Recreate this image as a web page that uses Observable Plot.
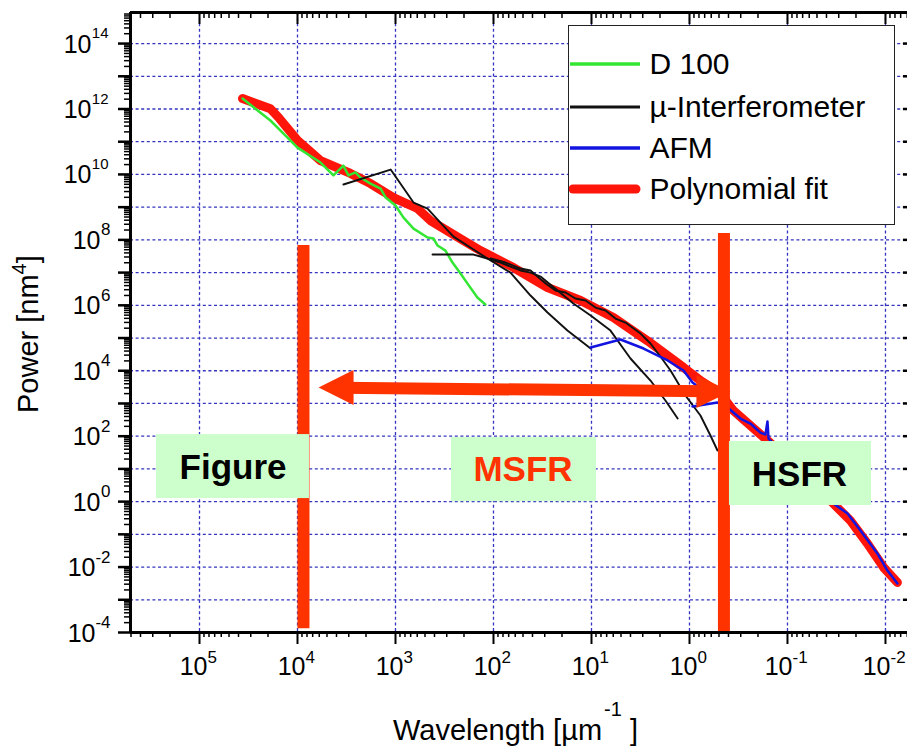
<!DOCTYPE html>
<html>
<head>
<meta charset="utf-8">
<script src="https://cdn.jsdelivr.net/npm/d3@7"></script>
<script src="https://cdn.jsdelivr.net/npm/@observablehq/plot@0.6"></script>
<style>
  html, body { margin: 0; padding: 0; background: #fff; overflow: hidden; }
  #wrap { position: relative; width: 907px; height: 750px; font-family: "Liberation Sans", Arial, sans-serif; color: #000; }
  #wrap svg { position: absolute; left: 0; top: 0; }
</style>
</head>
<body>
<div id="wrap"></div>
<script>
// ---------------- data ----------------
const seriesNames  = ["D 100", "µ-Interferometer", "AFM", "Polynomial fit"];
const seriesColors = ["#33e633", "#111111", "#1414e0", "#ff150a"];

// Polynomial fit
const fitX = [3.64e4, 1.89e4, 1.56e4, 1.0e4, 5.82e3, 2.88e3, 1.80e3, 1.05e3, 597, 440, 202, 136, 62.5, 28.1, 12.9, 5.97, 2.69, 1.15, 0.773, 0.483, 0.356, 0.16, 0.0736, 0.034, 0.0228, 0.0153, 0.01047, 0.00755];
const fitY = [2.09e12, 1.02e12, 5.5e11, 1.1e11, 2.63e10, 1.07e10, 5.25e9, 1.95e9, 9.1e8, 3.9e8, 9.5e7, 4.7e7, 1.43e7, 3.5e6, 1.4e6, 4.24e5, 8.3e4, 1.26e4, 5.0e3, 2.0e3, 603, 74, 8.9, 0.87, 0.263, 0.0525, 0.0098, 0.00339];

// D 100
const d100X = [3.64e4, 1.89e4, 1.0e4, 5.82e3, 4.30e3, 3.40e3, 3.02e3, 2.56e3, 2.28e3, 1.80e3, 1.42e3, 1.26e3, 1.0e3, 828, 655, 471, 409, 372, 309, 262, 217, 184, 146, 121];
const d100Y = [2.09e12, 4.45e11, 6.6e10, 2.31e10, 9.3e9, 1.86e10, 9.3e9, 1.15e10, 8.05e9, 5.25e9, 3.7e9, 1.97e9, 1.12e9, 4.8e8, 2.2e8, 1.18e8, 1.1e8, 6.7e7, 4.7e7, 2.03e7, 9.4e6, 4.6e6, 1.73e6, 1.06e6];

// µ-Interferometer (three scans)
const mi1X = [3.4e3, 1.12e3, 655, 471, 348, 256, 160, 107, 67.1, 41.9, 28.1, 17.6, 10.2];
const mi1Y = [4.92e9, 1.41e10, 1.38e9, 9.08e8, 3.39e8, 1.26e8, 5.07e7, 2.34e7, 1.0e7, 1.99e6, 6.03e5, 1.69e5, 4.78e4];
const mi2X = [419, 160, 136, 107, 84.9, 67.1, 53.0, 41.9, 33.1, 22.2, 15.3, 10.2, 6.40, 4.0, 2.5, 1.76, 1.32];
const mi2Y = [3.56e7, 3.56e7, 3.1e7, 2.51e7, 2.03e7, 1.53e7, 1.16e7, 1.0e7, 7.59e6, 2.83e6, 1.13e6, 4.88e5, 1.69e5, 2.37e4, 5.02e3, 1.23e3, 347];
const mi3X = [107, 75.5, 53.0, 41.9, 29.4, 23.3, 18.4, 14.6, 11.5, 9.1, 7.19, 5.69, 4.50, 3.16, 2.5, 1.98, 1.56, 1.10, 0.773, 0.611, 0.518];
const mi3Y = [2.69e7, 2.03e7, 1.33e7, 1.16e7, 4.63e6, 2.83e6, 2.46e6, 1.61e6, 1.4e6, 8.55e5, 6.93e5, 3.94e5, 2.98e5, 1.37e5, 6.79e4, 2.72e4, 1.02e4, 1.75e3, 429, 105, 36.5];

// AFM (two scans)
const afm1X = [10.2, 5.06, 2.94, 1.67, 1.15, 0.931, 0.773];
const afm1Y = [5.13e4, 9.0e4, 4.78e4, 2.06e4, 1.02e4, 4.37e3, 2.86e3];
const afm2X = [0.931, 0.518, 0.409, 0.302, 0.239, 0.189, 0.168, 0.160, 0.156, 0.0736, 0.034, 0.0244, 0.018, 0.0121, 0.00955, 0.00755];
const afm2Y = [807, 1.07e3, 752, 347, 244, 129, 112, 281, 84.9, 8.93, 0.875, 0.434, 0.131, 0.026, 0.00783, 0.00314];

// Region boundaries (vertical bars) and the double arrow
const boundaryX      = [8.69e3, 0.445];
const boundaryTop    = [6.7e7, 1.56e8];
const boundaryBottom = [1.3e-4, 1e-4];
const arrowStart = [6.1e3, 3.07e3];   // [x, y]
const arrowEnd   = [0.382, 2.32e3];

// Region label boxes
const regionLabels = ["Figure", "MSFR", "HSFR"];
const regionColors = ["#000000", "#ff3300", "#000000"];
const boxX1 = [2.75e5, 268, 0.391];
const boxX2 = [7.55e3, 8.9, 0.0139];
const boxTop = [112, 91, 68.7];
const boxBottom = [1.24, 1.0, 0.76];
const labelX = [4.55e4, 50.0, 0.0755];
const labelY = [11.0, 9.25, 6.5];

// Axes
const X_DOMAIN = [5.06e5, 5.96e-3];
const Y_DOMAIN = [1e-4, 8.9e14];
const xTickValues = [1e5, 1e4, 1e3, 1e2, 1e1, 1, 1e-1, 1e-2];
const xTickExps   = ["5", "4", "3", "2", "1", "0", "-1", "-2"];
const yTickValues = [1e-4, 1e-2, 1, 1e2, 1e4, 1e6, 1e8, 1e10, 1e12, 1e14];
const yTickExps   = ["-4", "-2", "0", "2", "4", "6", "8", "10", "12", "14"];
const yDecades = [1e-4,1e-3,1e-2,1e-1,1,1e1,1e2,1e3,1e4,1e5,1e6,1e7,1e8,1e9,1e10,1e11,1e12,1e13,1e14];
const xDecades = [1e5,1e4,1e3,1e2,1e1,1,1e-1,1e-2];
const xLabelTitle = "Wavelength [µm";
const yLabelTitle = "Power [nm";

// ---------------- build ----------------
const FONT = '"Liberation Sans", Arial, sans-serif';
const ORANGE = "#ff3300";
const GRID = "#3434c0";

const rows = (xs, ys, seg) => xs.map((x, i) => ({x, y: ys[i], seg}));
const fitRows = rows(fitX, fitY, "fit");
const d100Rows = rows(d100X, d100Y, "d100");
const miRows = [...rows(mi1X, mi1Y, "a"), ...rows(mi2X, mi2Y, "b"), ...rows(mi3X, mi3Y, "c")];
const afmRows = [...rows(afm1X, afm1Y, "a"), ...rows(afm2X, afm2Y, "b")];
const bounds = boundaryX.map((x, i) => ({x, y1: boundaryTop[i], y2: boundaryBottom[i]}));
const arrowRow = [{x1: arrowStart[0], y1: arrowStart[1], x2: arrowEnd[0], y2: arrowEnd[1]}];
const boxes = regionLabels.map((t, i) => ({t, c: regionColors[i], x1: boxX1[i], x2: boxX2[i], y1: boxTop[i], y2: boxBottom[i], lx: labelX[i], ly: labelY[i]}));

const inX = v => v <= X_DOMAIN[0] && v >= X_DOMAIN[1];
const inY = v => v >= Y_DOMAIN[0] && v <= Y_DOMAIN[1];
const minors = (decs, ok) => decs.flatMap(d => [2,3,4,5,6,7,8,9].map(k => k * d)).filter(ok);
const xMinor = minors([1e5,1e4,1e3,1e2,1e1,1,1e-1,1e-2,1e-3], inX);
const yMinor = minors(yDecades, inY);
const xGrid = xDecades;
const yGrid = yDecades.slice(1);

const headLeft = {draw(ctx) { ctx.moveTo(0, 0); ctx.lineTo(35, -17.5); ctx.lineTo(35, 17.5); ctx.closePath(); }};
const headRight = {draw(ctx) { ctx.moveTo(0, 0); ctx.lineTo(-34, -16.5); ctx.lineTo(-34, 16.5); ctx.closePath(); }};

const xLab = xTickValues.map((v, i) => ({v, e: xTickExps[i]}));
const yLab = yTickValues.map((v, i) => ({v, e: yTickExps[i]}));

const xLabelMarks = [
  {f: d => !d.e.startsWith("-"), dx: 8},
  {f: d => d.e.startsWith("-"), dx: 5}
].flatMap(g => [
  Plot.text(xLab.filter(g.f), {x: "v", text: () => "10", frameAnchor: "bottom", textAnchor: "end", dx: g.dx, dy: 42, fontSize: 25, fontFamily: FONT, fill: "#000"}),
  Plot.text(xLab.filter(g.f), {x: "v", text: "e", frameAnchor: "bottom", textAnchor: "start", dx: g.dx, dy: 30, fontSize: 17, fontFamily: FONT, fill: "#000"})
]);
const yLabelMarks = [
  {f: d => d.e.length === 1, dx: -30, ex: -20, fs: 17},
  {f: d => d.e.startsWith("-"), dx: -35, ex: -20, fs: 17},
  {f: d => d.e.length === 2 && !d.e.startsWith("-"), dx: -39, ex: -22, fs: 15}
].flatMap(g => [
  Plot.text(yLab.filter(g.f), {y: "v", text: () => "10", frameAnchor: "left", textAnchor: "end", dx: g.dx, dy: 1, fontSize: 25, fontFamily: FONT, fill: "#000"}),
  Plot.text(yLab.filter(g.f), {y: "v", text: "e", frameAnchor: "left", textAnchor: "end", dx: g.ex, dy: -10, fontSize: g.fs, fontFamily: FONT, fill: "#000"})
]);

const plot = Plot.plot({
  width: 907,
  height: 750,
  marginLeft: 130,
  marginRight: 0,
  marginTop: 12,
  marginBottom: 118,
  style: {fontFamily: FONT, background: "transparent", overflow: "visible"},
  x: {type: "log", domain: X_DOMAIN},
  y: {type: "log", domain: Y_DOMAIN},
  marks: [
    // grid
    Plot.ruleX(xGrid, {stroke: GRID, strokeWidth: 1.3, strokeDasharray: "3,2.6"}),
    Plot.ruleY(yGrid, {stroke: GRID, strokeWidth: 1.3, strokeDasharray: "3,2.6"}),
    // curves
    Plot.line(fitRows, {x: "x", y: "y", stroke: seriesColors[3], strokeWidth: 9, strokeLinejoin: "round", strokeLinecap: "round"}),
    Plot.line(d100Rows, {x: "x", y: "y", stroke: seriesColors[0], strokeWidth: 2.5, strokeLinejoin: "round"}),
    Plot.line(miRows, {x: "x", y: "y", z: "seg", stroke: seriesColors[1], strokeWidth: 1.9, strokeLinejoin: "round"}),
    Plot.line(afmRows, {x: "x", y: "y", z: "seg", stroke: seriesColors[2], strokeWidth: 2.5, strokeLinejoin: "round"}),
    // region boundaries
    Plot.ruleX(bounds, {x: "x", y1: "y1", y2: "y2", stroke: ORANGE, strokeWidth: 12}),
    // double arrow
    Plot.arrow(arrowRow, {x1: "x1", y1: "y1", x2: "x2", y2: "y2", stroke: ORANGE, strokeWidth: 12, headLength: 0, insetStart: 22, insetEnd: 22, strokeLinecap: "butt"}),
    Plot.dot(arrowRow, {x: "x1", y: "y1", symbol: headLeft, fill: ORANGE, r: 5}),
    Plot.dot(arrowRow, {x: "x2", y: "y2", symbol: headRight, fill: ORANGE, r: 5}),
    // region label boxes
    Plot.rect(boxes, {x1: "x1", x2: "x2", y1: "y1", y2: "y2", fill: "#ccffcc"}),
    Plot.text(boxes, {x: "lx", y: "ly", text: "t", fill: "c", fontSize: 35, fontWeight: "bold", fontFamily: FONT, textAnchor: "middle"}),
    // frame (left, bottom, top)
    Plot.ruleX([X_DOMAIN[0]], {stroke: "#000", strokeWidth: 3}),
    Plot.ruleY([Y_DOMAIN[0]], {stroke: "#000", strokeWidth: 3}),
    Plot.ruleY([Y_DOMAIN[1]], {stroke: "#000", strokeWidth: 3}),
    // ticks
    Plot.axisX(xDecades, {anchor: "bottom", tickSize: 12, strokeWidth: 2, stroke: "#000", fill: "none"}),
    Plot.axisX(xMinor, {anchor: "bottom", tickSize: 5, strokeWidth: 1.5, stroke: "#000", fill: "none"}),
    Plot.axisX(xDecades, {anchor: "top", tickSize: 11, dy: 11, strokeWidth: 2, stroke: "#000", fill: "none"}),
    Plot.axisX(xMinor, {anchor: "top", tickSize: 5, dy: 5, strokeWidth: 1.5, stroke: "#000", fill: "none"}),
    Plot.axisY(yDecades, {anchor: "left", tickSize: 12, strokeWidth: 2.5, stroke: "#000", fill: "none"}),
    Plot.axisY(yMinor, {anchor: "left", tickSize: 6, strokeWidth: 1.5, stroke: "#000", fill: "none"}),
    Plot.axisY(yDecades, {anchor: "right", tickSize: 5, dx: -5, strokeWidth: 2.5, stroke: "#000", fill: "none"}),
    // tick labels
    ...xLabelMarks,
    ...yLabelMarks
  ]
});

const wrap = document.getElementById("wrap");
wrap.appendChild(plot);

// axis titles
const xt = document.createElement("div");
xt.style.cssText = "position:absolute;left:393px;top:715.5px;font-size:29px;line-height:29px;white-space:nowrap;";
xt.innerHTML = `${xLabelTitle}<span style="position:relative;top:-24px;font-size:20px;margin-left:2px">-1</span> ]`;
wrap.appendChild(xt);

const yt = document.createElement("div");
yt.style.cssText = "position:absolute;left:13.5px;top:413px;font-size:29px;line-height:29px;white-space:nowrap;transform-origin:0 0;transform:rotate(-90deg);";
yt.innerHTML = `${yLabelTitle}<span style="position:relative;top:-12px;font-size:20px">4</span>]`;
wrap.appendChild(yt);

// legend
const legend = document.createElement("div");
legend.style.cssText = "position:absolute;left:568px;top:25px;width:327px;height:200px;border:1.5px solid #222;background:#fff;box-sizing:border-box;";
const rowCenters = [37.5, 80.5, 121.5, 162.5];
const legendWidths = [3.5, 3, 3.5, 9];
seriesNames.forEach((name, i) => {
  const row = document.createElement("div");
  row.style.cssText = `position:absolute;left:0;top:${rowCenters[i] - 15}px;height:30px;width:100%;`;
  row.innerHTML = `<svg width="76" height="30" style="position:absolute;left:0;top:0"><line x1="${i === 3 ? 4 : 1}" x2="${i === 3 ? 67 : 71}" y1="15" y2="15" stroke="${seriesColors[i]}" stroke-width="${legendWidths[i]}" stroke-linecap="${i === 3 ? "round" : "butt"}"/></svg>` +
    `<span style="position:absolute;left:80.5px;top:0;font-size:30px;line-height:30px;white-space:nowrap">${name}</span>`;
  legend.appendChild(row);
});
wrap.appendChild(legend);
</script>
</body>
</html>
